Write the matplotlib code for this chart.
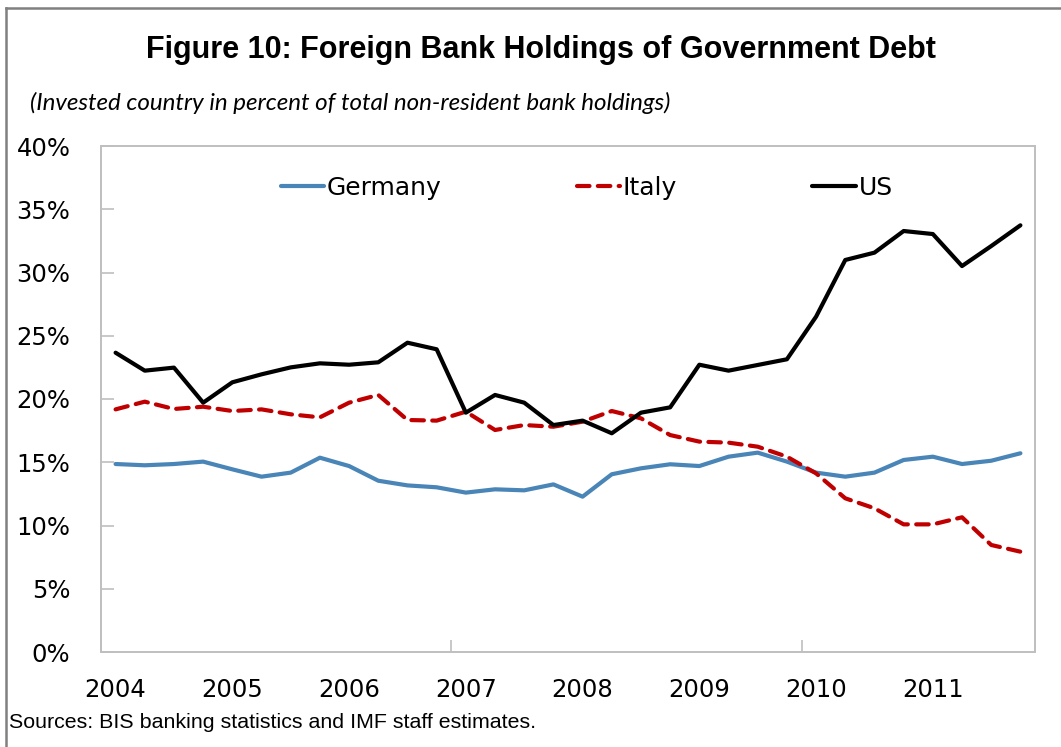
import matplotlib
matplotlib.use("Agg")
import matplotlib.pyplot as plt
from matplotlib.lines import Line2D

years = ["2004", "2005", "2006", "2007", "2008", "2009", "2010", "2011"]

germany = [14.86, 14.76, 14.86, 15.05, 14.44, 13.86, 14.18, 15.36,
           14.70, 13.54, 13.17, 13.02, 12.60, 12.86, 12.78, 13.25,
           12.28, 14.05, 14.52, 14.84, 14.70, 15.44, 15.76, 15.05,
           14.18, 13.86, 14.18, 15.18, 15.44, 14.86, 15.12, 15.71]

italy = [19.18, 19.79, 19.21, 19.39, 19.05, 19.18, 18.79, 18.55,
         19.71, 20.32, 18.34, 18.29, 19.00, 17.55, 17.94, 17.81,
         18.21, 19.05, 18.47, 17.15, 16.63, 16.55, 16.23, 15.44,
         14.12, 12.15, 11.36, 10.09, 10.09, 10.65, 8.46, 7.93]

us = [23.66, 22.24, 22.48, 19.71, 21.32, 21.95, 22.50, 22.82,
      22.71, 22.90, 24.45, 23.93, 18.92, 20.32, 19.71, 17.94,
      18.29, 17.29, 18.92, 19.34, 22.71, 22.24, 22.69, 23.14,
      26.51, 30.99, 31.57, 33.28, 33.04, 30.51, 32.09, 33.73]

yticks = [0, 5, 10, 15, 20, 25, 30, 35, 40]

W, H = 1061, 747
fig = plt.figure(figsize=(W / 100, H / 100), dpi=100)
ax = fig.add_axes([101 / W, 1 - 652 / H, (1035 - 101) / W, (652 - 146) / H])

x = list(range(len(us)))
lw = 3.0
ax.plot(x, germany, color="#4A85B8", lw=lw, solid_capstyle="round", label="Germany")
ax.plot(x, italy, color="#C00000", lw=lw, dashes=(3, 2), dash_capstyle="round", label="Italy")
ax.plot(x, us, color="#000000", lw=lw, solid_capstyle="round", label="US")

ax.set_xlim(-0.5, len(us) - 0.5)
ax.set_ylim(0, 40)
ax.set_yticks(yticks)
ax.set_yticklabels([f"{v}%" for v in yticks])

# major tick marks every 12 quarters, labels at start of each year
ax.set_xticks([-0.5, 11.5, 23.5])
ax.set_xticklabels([])
ax.set_xticks([4 * i for i in range(len(years))], minor=True)
ax.set_xticklabels(years, minor=True)
ax.tick_params(axis="x", which="minor", length=0, pad=19, labelsize=17.5)
ax.tick_params(axis="x", which="major", direction="in", length=9, color="#BFBFBF", width=1.2)
ax.tick_params(axis="y", direction="in", length=9, color="#BFBFBF", width=1.2, pad=22, labelsize=17.5)
for lab in ax.get_xticklabels(minor=True) + ax.get_yticklabels():
    lab.set_fontfamily("DejaVu Sans")

for s in ax.spines.values():
    s.set_color("#BFBFBF")
    s.set_linewidth(1.4)

leg = ax.legend(loc="upper center", bbox_to_anchor=(0.52, 0.986), ncol=3, frameon=False,
                prop={"family": "DejaVu Sans", "size": 18}, handlelength=1.75,
                handletextpad=0.1, columnspacing=5.4)

fig.text(541 / W, 1 - 50 / H, "Figure 10: Foreign Bank Holdings of Government Debt",
         ha="center", va="center", fontsize=22, fontweight="bold", family="Liberation Sans")
fig.text(30 / W, 1 - 103 / H, "(Invested country in percent of total non-resident bank holdings)",
         ha="left", va="center", fontsize=17.4, style="italic", family="Lato")
fig.text(9 / W, 1 - 722 / H, "Sources: BIS banking statistics and IMF staff estimates.",
         ha="left", va="center", fontsize=15.4, family="Liberation Sans")

# outer border (top and left)
fig.add_artist(Line2D([6 / W, 6 / W], [0, 1 - 8 / H], transform=fig.transFigure,
                      color="#808080", lw=1.8))
fig.add_artist(Line2D([6 / W, 1], [1 - 8 / H, 1 - 8 / H], transform=fig.transFigure,
                      color="#808080", lw=1.8))

fig.savefig("out.png", dpi=100)
